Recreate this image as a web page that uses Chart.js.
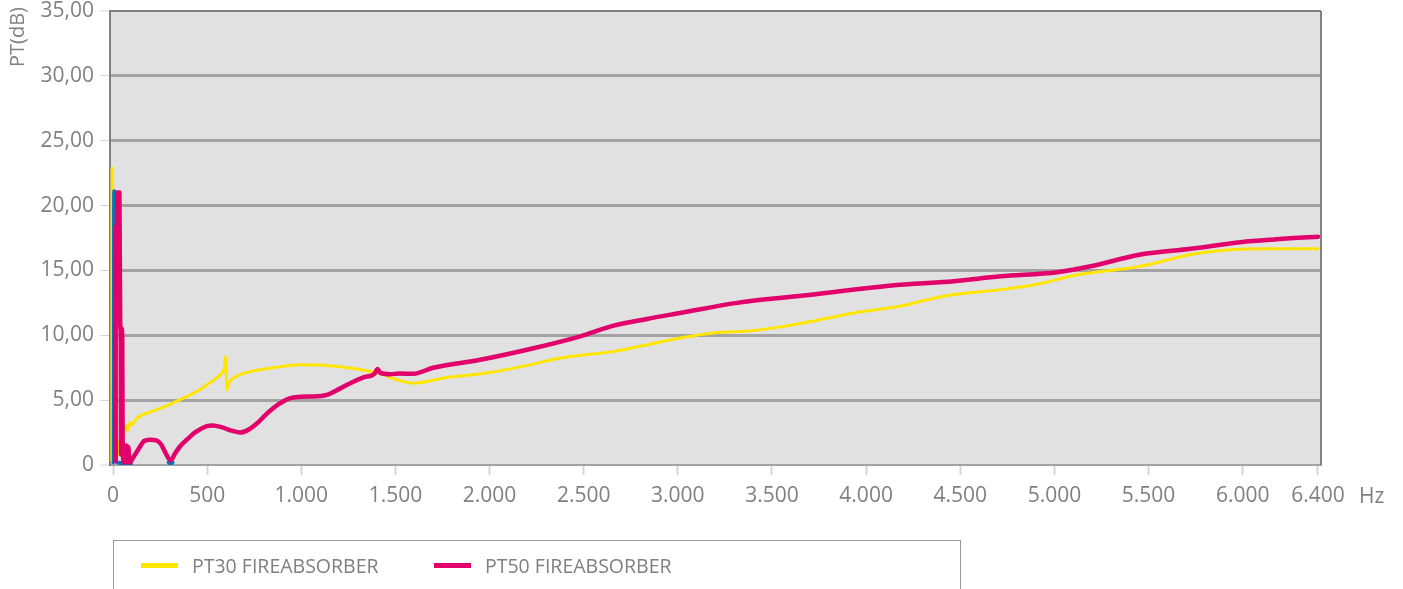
<!DOCTYPE html>
<html>
<head>
<meta charset="utf-8">
<script src="https://cdn.jsdelivr.net/npm/chart.js@4/dist/chart.umd.min.js"></script>
<style>
  html, body { margin: 0; padding: 0; background: #ffffff; }
  #wrap { position: relative; width: 1403px; height: 589px; overflow: hidden; }
  #c { position: absolute; left: 0; top: 0; }
  #legend { position: absolute; left: 113px; top: 540px; width: 848px; height: 70px;
    border: 1px solid #9a9a9a; box-sizing: border-box; font-family: "Open Sans", sans-serif; }
  .item { position: absolute; top: 12px; height: 24px; display: flex; align-items: center;
    font-size: 19.5px; color: #808080; }
  .sw { display: inline-block; width: 37px; height: 5px; margin-right: 14px; }
</style>
</head>
<body>
<div id="wrap">
  <canvas id="c" width="1403" height="589"></canvas>
  <div id="legend"></div>
</div>
<script>
// ---- data (frequency in Hz, level in dB) ----
const xTickValues = [0, 500, 1000, 1500, 2000, 2500, 3000, 3500, 4000, 4500, 5000, 5500, 6000, 6400];
const yTickValues = [0, 5, 10, 15, 20, 25, 30, 35];

const pt30Name = "PT30 FIREABSORBER";
const pt30Hz = [-6, -5, -4, 0, 2, 4, 30, 37, 42, 50, 62, 70, 80, 90, 100, 126, 200, 285, 392, 450, 498, 540, 569, 590, 599, 604, 615, 640, 680, 728, 850, 994, 1100, 1260, 1401, 1440, 1481, 1596, 1773, 2003, 2216, 2376, 2659, 2836, 3013, 3190, 3403, 3668, 3934, 4200, 4289, 4466, 4714, 4926, 5103, 5458, 5724, 5901, 6167, 6400];
const pt30Db = [0.3, 22.9, 0.4, 0.2, 4.3, 0.3, 1.2, 2.0, 1.3, 2.3, 2.5, 3.0, 2.7, 3.3, 3.1, 3.6, 4.1, 4.56, 5.28, 5.7, 6.18, 6.6, 6.96, 7.4, 8.37, 5.8, 6.3, 6.7, 7.0, 7.2, 7.5, 7.73, 7.7, 7.47, 7.1, 6.95, 6.7, 6.31, 6.75, 7.13, 7.73, 8.25, 8.76, 9.27, 9.79, 10.18, 10.36, 10.95, 11.72, 12.29, 12.62, 13.14, 13.52, 13.99, 14.61, 15.32, 16.23, 16.56, 16.67, 16.67];

const pt50Name = "PT50 FIREABSORBER";
const pt50Hz = [12, 14, 20, 24, 34, 38, 41, 43, 46, 49, 51, 58, 64, 70, 76, 81, 88, 94, 108, 126, 143, 165, 197, 230, 255, 280, 306, 330, 360, 392, 440, 498, 530, 580, 630, 675, 710, 764, 820, 880, 941, 1000, 1064, 1136, 1200, 1260, 1330, 1390, 1405, 1420, 1470, 1520, 1596, 1700, 1950, 2216, 2482, 2659, 2836, 3013, 3314, 3668, 4023, 4200, 4466, 4714, 5015, 5192, 5458, 5724, 5989, 6167, 6400];
const pt50Db = [0.3, 18.3, 18.3, 21.0, 21.0, 11.0, 9.8, 0.8, 10.5, 9.8, 1.9, 0.2, 0.5, 1.5, 0.2, 1.4, 0.2, 0.25, 0.6, 1.0, 1.4, 1.85, 1.95, 1.9, 1.6, 0.9, 0.35, 0.9, 1.5, 1.95, 2.55, 3.0, 3.05, 2.9, 2.65, 2.5, 2.65, 3.2, 4.0, 4.7, 5.15, 5.27, 5.28, 5.4, 5.85, 6.3, 6.75, 7.05, 7.4, 7.1, 7.0, 7.05, 7.03, 7.5, 8.11, 8.94, 9.92, 10.74, 11.26, 11.72, 12.5, 13.06, 13.66, 13.91, 14.17, 14.55, 14.86, 15.32, 16.23, 16.67, 17.18, 17.39, 17.6];

const blueHz = [2, 4, 6, 12, 14, 16, 25, 60, 95, 100, 296, 306, 316];
const blueDb = [0.2, 0.3, 21.1, 21.0, 17.0, 0.3, 0.2, 0.1, 0.1, null, 0.2, 0.1, 0.2];

// ---- build ----
const toPts = (xs, ys) => xs.map((x, i) => ({ x: x, y: ys[i] }));
const fmtX = v => {
  const s = String(Math.round(v));
  return s.replace(/\B(?=(\d{3})+(?!\d))/g, ".");
};
const fmtY = v => v === 0 ? "0" : v.toFixed(2).replace(".", ",");

const YELLOW = "#ffe500", MAGENTA = "#e2006b", BLUE = "#0a72b9";
const GREY = "#808080";

const framePlugin = {
  id: "frame",
  beforeDraw(chart) {
    const { ctx, chartArea: a } = chart;
    ctx.save();
    ctx.fillStyle = "#e1e1e1";
    ctx.fillRect(a.left, a.top, a.right - a.left, a.bottom - a.top);
    ctx.restore();
  },
  afterDraw(chart) {
    const { ctx, chartArea: a } = chart;
    ctx.save();
    ctx.strokeStyle = GREY;
    ctx.lineWidth = 2;
    ctx.beginPath();
    ctx.moveTo(a.right, a.top);
    ctx.lineTo(a.right, a.bottom);
    ctx.stroke();
    ctx.fillStyle = GREY;
    ctx.font = "21px 'Open Sans'";
    ctx.textAlign = "left";
    ctx.textBaseline = "middle";
    ctx.fillText("Hz", 1359, 497);
    ctx.font = "20px 'Open Sans'";
    ctx.translate(18.5, 37);
    ctx.rotate(-Math.PI / 2);
    ctx.textAlign = "center";
    ctx.fillText("PT(dB)", 0, 0);
    ctx.restore();
  }
};

new Chart(document.getElementById("c"), {
  type: "line",
  data: {
    datasets: [
      { label: pt50Name, data: toPts(pt50Hz, pt50Db), borderColor: MAGENTA, borderWidth: 4.5, order: 0 },
      { label: "", data: toPts(blueHz, blueDb), borderColor: BLUE, borderWidth: 4, order: 1, spanGaps: false },
      { label: pt30Name, data: toPts(pt30Hz, pt30Db), borderColor: YELLOW, borderWidth: 3, order: 2 }
    ]
  },
  options: {
    responsive: false,
    animation: false,
    events: [],
    elements: { point: { radius: 0 }, line: { tension: 0, cubicInterpolationMode: "monotone", borderCapStyle: "round", borderJoinStyle: "round", fill: false } },
    layout: { padding: { top: 11, right: 82, bottom: 0, left: 0 } },
    plugins: { legend: { display: false }, tooltip: { enabled: false } },
    scales: {
      x: {
        type: "linear", min: -16, max: 6416,
        afterBuildTicks: s => { s.ticks = xTickValues.map(v => ({ value: v })); },
        afterFit: s => { s.height = 124; s.paddingLeft = 0; s.paddingRight = 0; },
        ticks: { callback: v => fmtX(v), color: GREY, font: { family: "Open Sans", size: 21, lineHeight: 1 }, padding: 11, maxRotation: 0, autoSkip: false },
        grid: { drawOnChartArea: false, drawTicks: true, tickLength: 10, tickColor: "#d6d6d6", tickWidth: 2 },
        border: { display: true, color: "#a3a3a3", width: 2 }
      },
      y: {
        type: "linear", min: 0, max: 35,
        afterBuildTicks: s => { s.ticks = yTickValues.map(v => ({ value: v })); },
        afterFit: s => { s.width = 110; s.paddingTop = 0; s.paddingBottom = 0; },
        ticks: { callback: v => fmtY(v), color: GREY, font: { family: "Open Sans", size: 21, lineHeight: 1 }, padding: 6 },
        grid: {
          drawOnChartArea: true, drawTicks: true, tickLength: 10, tickWidth: 1, tickColor: "#d6d6d6",
          color: c => c.tick && c.tick.value === 35 ? GREY : "#a3a3a3",
          lineWidth: c => (c.tick && (c.tick.value === 35 || c.tick.value === 0)) ? 2 : 3
        },
        border: { display: true, color: GREY, width: 2 }
      }
    }
  },
  plugins: [framePlugin]
});

// ---- HTML legend ----
const legendItems = [
  { name: pt30Name, color: YELLOW, left: 27 },
  { name: pt50Name, color: MAGENTA, left: 320 }
];
const lg = document.getElementById("legend");
legendItems.forEach(it => {
  const d = document.createElement("div");
  d.className = "item";
  d.style.left = it.left + "px";
  const sw = document.createElement("span");
  sw.className = "sw";
  sw.style.background = it.color;
  const t = document.createElement("span");
  t.textContent = it.name;
  d.appendChild(sw);
  d.appendChild(t);
  lg.appendChild(d);
});
</script>
</body>
</html>
